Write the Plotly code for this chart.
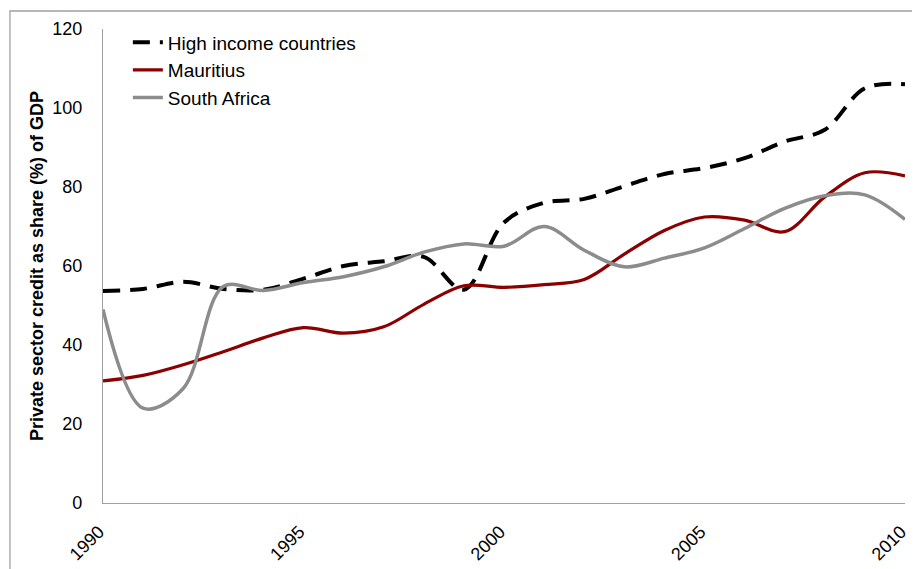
import plotly.graph_objects as go

years = list(range(1990, 2011))
high_income = [53.7, 54.2, 56.0, 54.2, 54.0, 56.8, 60.0, 61.2, 62.3, 54.0, 71.0,
               76.0, 77.0, 80.2, 83.3, 84.8, 87.3, 91.5, 94.5, 105.0, 106.0]
mauritius = [30.9, 32.3, 35.0, 38.3, 41.8, 44.4, 43.0, 44.6, 50.3, 55.0, 54.6,
             55.3, 56.6, 63.0, 69.0, 72.4, 71.6, 68.7, 77.5, 83.6, 82.8]
south_africa = [49.0, 24.0, 29.0, 54.8, 53.8, 55.8, 57.3, 59.8, 63.5, 65.6, 65.0,
                70.0, 64.0, 59.8, 62.0, 64.6, 69.5, 74.6, 77.8, 78.0, 71.8]

x_ticks = [1990, 1995, 2000, 2005, 2010]
y_ticks = [0, 20, 40, 60, 80, 100, 120]

fig = go.Figure()
fig.add_trace(go.Scatter(x=years, y=high_income, mode="lines", name="High income countries",
                         line=dict(color="black", width=4, dash="17px,10px", shape="spline", smoothing=1.0)))
fig.add_trace(go.Scatter(x=years, y=mauritius, mode="lines", name="Mauritius",
                         line=dict(color="#8B0000", width=3.2, shape="spline", smoothing=1.0)))
fig.add_trace(go.Scatter(x=years, y=south_africa, mode="lines", name="South Africa",
                         line=dict(color="#8C8C8C", width=3.5, shape="spline", smoothing=1.0)))

font_family = "Liberation Sans, Arial, sans-serif"

fig.update_layout(
    width=912, height=561,
    margin=dict(l=95, r=15, t=21, b=66, autoexpand=False),
    paper_bgcolor="white", plot_bgcolor="white",
    font=dict(family=font_family, color="black", size=18),
    showlegend=True,
    legend=dict(x=0.031, y=1.012, xanchor="left", yanchor="top", bgcolor="rgba(0,0,0,0)",
                font=dict(size=19, family=font_family), tracegroupgap=0, itemwidth=30),
    xaxis=dict(range=[1990, 2010], tickvals=x_ticks, ticktext=[str(t) for t in x_ticks],
               tickangle=-45, showgrid=False, zeroline=False, showline=True, automargin=False,
               linecolor="#A0A0A0", linewidth=1.3, ticks="", tickfont=dict(size=18),
               ticklabelstandoff=10, ticklabelshift=-4),
    yaxis=dict(range=[0, 120], tickvals=y_ticks, showgrid=False, zeroline=False, automargin=False,
               showline=True, linecolor="#A0A0A0", linewidth=1.3, ticks="",
               ticklabelstandoff=16, tickfont=dict(size=18),
               title=dict(text="<b>Private sector credit as share (%) of GDP</b>",
                          font=dict(size=18), standoff=3)),
    shapes=[dict(type="rect", xref="paper", yref="paper",
                 x0=-0.116, x1=1.1, y0=-0.3, y1=1.038,
                 line=dict(color="#A0A0A0", width=1.3), fillcolor="rgba(0,0,0,0)", layer="below")],
)

fig.write_html("out.html")
